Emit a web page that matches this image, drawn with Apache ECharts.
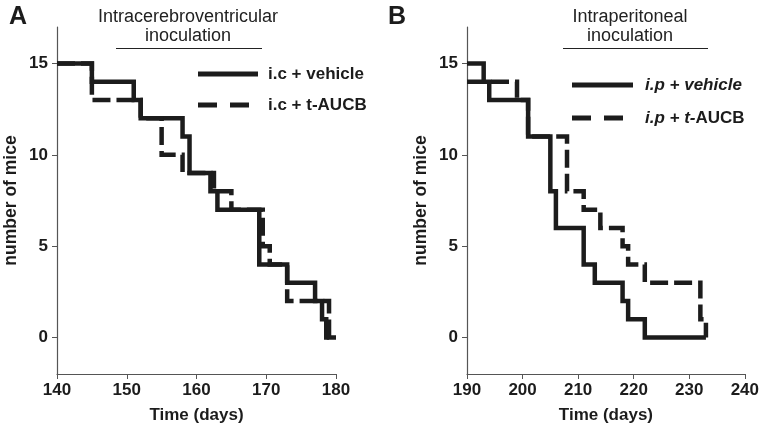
<!DOCTYPE html>
<html>
<head>
<meta charset="utf-8">
<script src="https://cdn.jsdelivr.net/npm/echarts@6/dist/echarts.min.js"></script>
<style>
html,body{margin:0;padding:0;background:#fff;}
#c{width:762px;height:429px;}
</style>
</head>
<body>
<div id="c"></div>
<script>
// Panel A: intracerebroventricular (time in days, number of mice)
const icVehicle = [[140,15],[145,14],[151,13],[152,12],[158,11],[159,9],[162,8],[163,7],[169,4],[173,3],[177,2],[178,1],[178.6,0],[180,0]];
const icAUCB    = [[140,15],[145,13],[152,12],[155,10],[158,9],[162.5,8],[165,7],[169.5,5],[170.5,4],[173,2],[179,0],[179.5,0]];
// Panel B: intraperitoneal
const ipVehicle = [[190,15],[193,14],[194,13],[201,11],[205,8],[206,6],[211,4],[213,3],[218,2],[219,1],[222,0],[233,0]];
const ipAUCB    = [[190,14],[199,13],[201,11],[208,8],[211,7],[214,6],[218,5],[219,4],[222,3],[232,1],[233,0]];
const yTicks = [0,5,10,15];
const xRangeA = [140,180];
const xRangeB = [190,240];
const namesA = ['i.c + vehicle','i.c + t-AUCB'];
const namesB = ['i.p + vehicle','i.p + t-AUCB'];

const FONT = 'Liberation Sans, Arial, sans-serif';
const INK = '#1c1c1c';
const AX = '#555';
const chart = echarts.init(document.getElementById('c'), null, {renderer:'canvas'});

function xAxis(idx, range){
  return {
    type:'value', gridIndex:idx, min:range[0], max:range[1], interval:10,
    name:'Time (days)', nameLocation:'middle', nameGap:33,
    nameTextStyle:{fontFamily:FONT, fontWeight:'bold', fontSize:17, color:INK},
    axisLine:{onZero:false, lineStyle:{color:AX, width:1.2}},
    axisTick:{length:5, lineStyle:{color:AX, width:1}},
    axisLabel:{fontFamily:FONT, fontWeight:'bold', fontSize:17, color:INK, margin:8},
    splitLine:{show:false}
  };
}
function yAxis(idx){
  return {
    type:'value', gridIndex:idx, min:-2, max:17,
    name:'number of mice', nameLocation:'middle', nameGap:37, nameRotate:90,
    nameTextStyle:{fontFamily:FONT, fontWeight:'bold', fontSize:17.5, color:INK},
    axisLine:{onZero:false, lineStyle:{color:AX, width:1.2}},
    axisTick:{length:5, customValues:yTicks, lineStyle:{color:AX, width:1}},
    axisLabel:{fontFamily:FONT, fontWeight:'bold', fontSize:17, color:INK, margin:9, customValues:yTicks},
    splitLine:{show:false}
  };
}
function line(name, data, idx, dashed){
  return {
    name:name, type:'line', xAxisIndex:idx, yAxisIndex:idx, data:data, step:'end',
    symbol:'none', silent:true, animation:false,
    lineStyle:{color:INK, width:4.5, type: dashed ? [18,6] : 'solid', cap:'butt', join:'miter'},
    itemStyle:{color:INK}
  };
}
function legendLine(x1, x2, y, dashed){
  return {type:'line', shape:{x1:x1, y1:y, x2:x2, y2:y},
    style:{stroke:INK, lineWidth:5, lineDash: dashed ? [19,13] : null, lineCap:'butt'}};
}
function legendText(x, y, rich, text){
  return {type:'text', x:x, y:y, style:{text:text, rich:rich, font:'bold 17px '+FONT, fill:INK, verticalAlign:'middle'}};
}
const richB = {
  i:{fontFamily:FONT, fontWeight:'bold', fontStyle:'italic', fontSize:17, fill:INK, color:INK},
  b:{fontFamily:FONT, fontWeight:'bold', fontStyle:'normal', fontSize:17, fill:INK, color:INK}
};

const option = {
  animation:false,
  backgroundColor:'#fff',
  grid:[
    {left:57, top:27, width:279, height:353.5},
    {left:467, top:27, width:278, height:353.5}
  ],
  xAxis:[xAxis(0, xRangeA), xAxis(1, xRangeB)],
  yAxis:[yAxis(0), yAxis(1)],
  graphic:[
    {type:'text', left:9, top:5, style:{text:'A', font:'bold 25px '+FONT, fill:INK}},
    {type:'text', left:388, top:5, style:{text:'B', font:'bold 25px '+FONT, fill:INK}},
    {type:'text', x:188, y:8, style:{text:'Intracerebroventricular\ninoculation', font:'18px '+FONT, fill:'#222', align:'center', lineHeight:19}},
    {type:'text', x:630, y:8, style:{text:'Intraperitoneal\ninoculation', font:'18px '+FONT, fill:'#222', align:'center', lineHeight:19}},
    {type:'line', shape:{x1:116, y1:48.5, x2:262, y2:48.5}, style:{stroke:'#222', lineWidth:1}},
    {type:'line', shape:{x1:563, y1:48.5, x2:708, y2:48.5}, style:{stroke:'#222', lineWidth:1}},
    legendLine(198, 258, 74, false),
    legendLine(198, 258, 105, true),
    legendText(268, 74, null, namesA[0]),
    legendText(268, 105, null, namesA[1]),
    legendLine(572, 633, 85, false),
    legendLine(572, 633, 118, true),
    legendText(645, 85, richB, '{i|' + namesB[0] + '}'),
    legendText(645, 118, richB, '{i|i.p + t-}{b|AUCB}')
  ],
  series:[
    line(namesA[0], icVehicle, 0, false),
    line(namesA[1], icAUCB, 0, true),
    line(namesB[0], ipVehicle, 1, false),
    line(namesB[1], ipAUCB, 1, true)
  ]
};
chart.setOption(option);
</script>
</body>
</html>
